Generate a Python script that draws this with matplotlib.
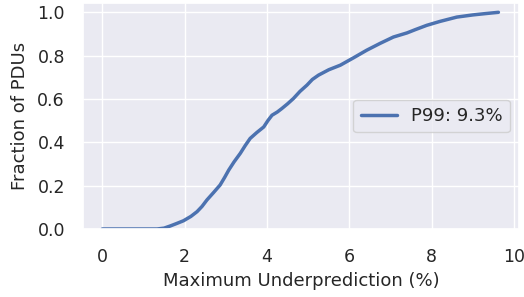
import matplotlib
matplotlib.use("Agg")
import matplotlib.pyplot as plt
import seaborn as sns

sns.set_theme(style="darkgrid")

# CDF of maximum underprediction
underprediction = [0.0, 0.5, 1.0, 1.33, 1.5, 1.65, 1.8, 1.97, 2.15, 2.30, 2.42, 2.54, 2.70,
                   2.86, 2.97, 3.07, 3.20, 3.35, 3.47, 3.59, 3.75, 3.92, 4.02, 4.12, 4.25,
                   4.36, 4.50, 4.64, 4.80, 4.97, 5.10, 5.25, 5.50, 5.78, 6.10, 6.42,
                   6.75, 7.07, 7.40, 7.60, 7.88, 8.20, 8.61, 9.00, 9.30, 9.62]
fraction = [0.0, 0.0, 0.0, 0.0, 0.004, 0.014, 0.025, 0.038, 0.058, 0.08, 0.104, 0.134, 0.168,
            0.203, 0.238, 0.272, 0.31, 0.349, 0.385, 0.418, 0.445, 0.471, 0.50, 0.525, 0.54,
            0.556, 0.578, 0.602, 0.635, 0.664, 0.69, 0.71, 0.735, 0.756, 0.79, 0.825,
            0.857, 0.886, 0.905, 0.92, 0.94, 0.958, 0.978, 0.988, 0.994, 1.0]
legend_label = "P99: 9.3%"

fig = plt.figure(figsize=(5.24, 2.97), dpi=100)
ax = fig.add_axes([83 / 524, 1 - 229 / 297, (519 - 83) / 524, (229 - 3) / 297])
ax.plot(underprediction, fraction, color="#4c72b0", linewidth=2.5, label=legend_label)
ax.set_xlim(-0.47, 10.12)
ax.set_ylim(0, 1.043)
ax.set_xticks([0, 2, 4, 6, 8, 10])
ax.set_yticks([0.0, 0.2, 0.4, 0.6, 0.8, 1.0])
ax.tick_params(axis="x", labelsize=12.5, pad=8)
ax.tick_params(axis="y", labelsize=12.5, pad=7)
ax.set_xlabel("Maximum Underprediction (%)", fontsize=13, labelpad=4)
ax.set_ylabel("Fraction of PDUs", fontsize=13, labelpad=6)
ax.legend(loc="center right", fontsize=13)
fig.savefig("out.png", dpi=100)
